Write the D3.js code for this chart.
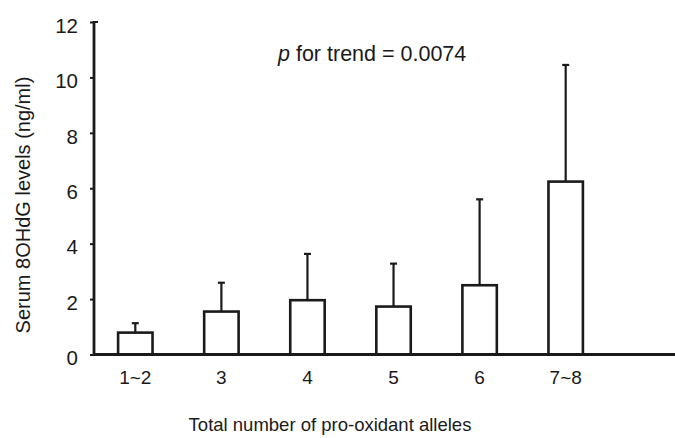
<!DOCTYPE html>
<html>
<head>
<meta charset="utf-8">
<script src="https://cdn.jsdelivr.net/npm/d3@7"></script>
<style>
  body { margin: 0; background: #fff; }
  text { font-family: "Liberation Sans", Arial, sans-serif; fill: #1a1a1a; }
</style>
</head>
<body>
<div id="graf"></div>
<script>
// Serum 8OHdG by number of pro-oxidant alleles

categorias = ['1~2', '3', '4', '5', '6', '7~8']
medias     = [0.79, 1.55, 1.96, 1.73, 2.50, 6.24]
desvios    = [0.34, 1.04, 1.67, 1.55, 3.10, 4.21]
yTicks     = [0, 2, 4, 6, 8, 10, 12]

ancho_total = 675
alto_total  = 438
margins = { top: 22, left: 94, right: 0, bottom: 83.5 }
ancho = ancho_total - margins.left - margins.right
alto  = alto_total - margins.top - margins.bottom

svg = d3.select('#graf').append('svg')
        .attr('width', ancho_total)
        .attr('height', alto_total)

g = svg.append('g')
       .attr('transform', `translate(${margins.left}, ${margins.top})`)

// Escaladores
x = d3.scaleBand()
      .domain(categorias)
      .range([0, 513])
      .paddingInner(0.6)
      .paddingOuter(0.28)
y = d3.scaleLinear().domain([0, 12]).range([alto, 0])

datos = categorias.map((c, i) => ({ cat: c, media: medias[i], sd: desvios[i] }))

// Barras de error
g.selectAll('.err')
  .data(datos)
  .enter().append('line')
  .attr('x1', d => x(d.cat) + x.bandwidth() / 2)
  .attr('x2', d => x(d.cat) + x.bandwidth() / 2)
  .attr('y1', d => y(d.media))
  .attr('y2', d => y(d.media + d.sd))
  .attr('stroke', '#1a1a1a')
  .attr('stroke-width', 2.2)
g.selectAll('.cap')
  .data(datos)
  .enter().append('line')
  .attr('x1', d => x(d.cat) + x.bandwidth() / 2 - 3.5)
  .attr('x2', d => x(d.cat) + x.bandwidth() / 2 + 3.5)
  .attr('y1', d => y(d.media + d.sd))
  .attr('y2', d => y(d.media + d.sd))
  .attr('stroke', '#1a1a1a')
  .attr('stroke-width', 2.2)

// Barras
g.selectAll('.bar')
  .data(datos)
  .enter().append('rect')
  .attr('x', d => x(d.cat))
  .attr('y', d => y(d.media))
  .attr('width', x.bandwidth())
  .attr('height', d => y(0) - y(d.media))
  .attr('fill', '#fff')
  .attr('stroke', '#1a1a1a')
  .attr('stroke-width', 2.6)

// Eje Y
yAxis = g.append('g')
  .call(d3.axisLeft(y).tickValues(yTicks).tickSize(4).tickPadding(12).tickSizeOuter(0))
yAxis.select('.domain').remove()
yAxis.selectAll('line').attr('stroke', '#1a1a1a').attr('stroke-width', 2)
yAxis.selectAll('text')
  .attr('font-size', 20.5)
  .attr('dy', '0.5em')

g.append('line')
  .attr('x1', 0).attr('x2', 0)
  .attr('y1', y(12) - 1).attr('y2', y(0))
  .attr('stroke', '#1a1a1a').attr('stroke-width', 2.8)
g.append('line')
  .attr('x1', 0).attr('x2', 4)
  .attr('y1', y(12)).attr('y2', y(12))
  .attr('stroke', '#1a1a1a').attr('stroke-width', 2)

// Eje X
xAxis = g.append('g')
  .attr('transform', `translate(0, ${alto})`)
  .call(d3.axisBottom(x).tickSize(0).tickPadding(16))
xAxis.select('.domain').remove()
xAxis.selectAll('text').attr('font-size', 19)

g.append('line')
  .attr('x1', -1).attr('x2', ancho)
  .attr('y1', alto).attr('y2', alto)
  .attr('stroke', '#1a1a1a').attr('stroke-width', 2.8)

// Títulos
svg.append('text')
  .attr('x', 330)
  .attr('y', 431)
  .attr('text-anchor', 'middle')
  .attr('font-size', 18.5)
  .text('Total number of pro-oxidant alleles')

svg.append('text')
  .attr('transform', 'translate(30, 205) rotate(-90)')
  .attr('text-anchor', 'middle')
  .attr('font-size', 20)
  .text('Serum 8OHdG levels (ng/ml)')

pt = svg.append('text')
  .attr('x', 278)
  .attr('y', 61)
  .attr('font-size', 21.5)
pt.append('tspan').attr('font-style', 'italic').text('p')
pt.append('tspan').text(' for trend = 0.0074')
</script>
</body>
</html>
